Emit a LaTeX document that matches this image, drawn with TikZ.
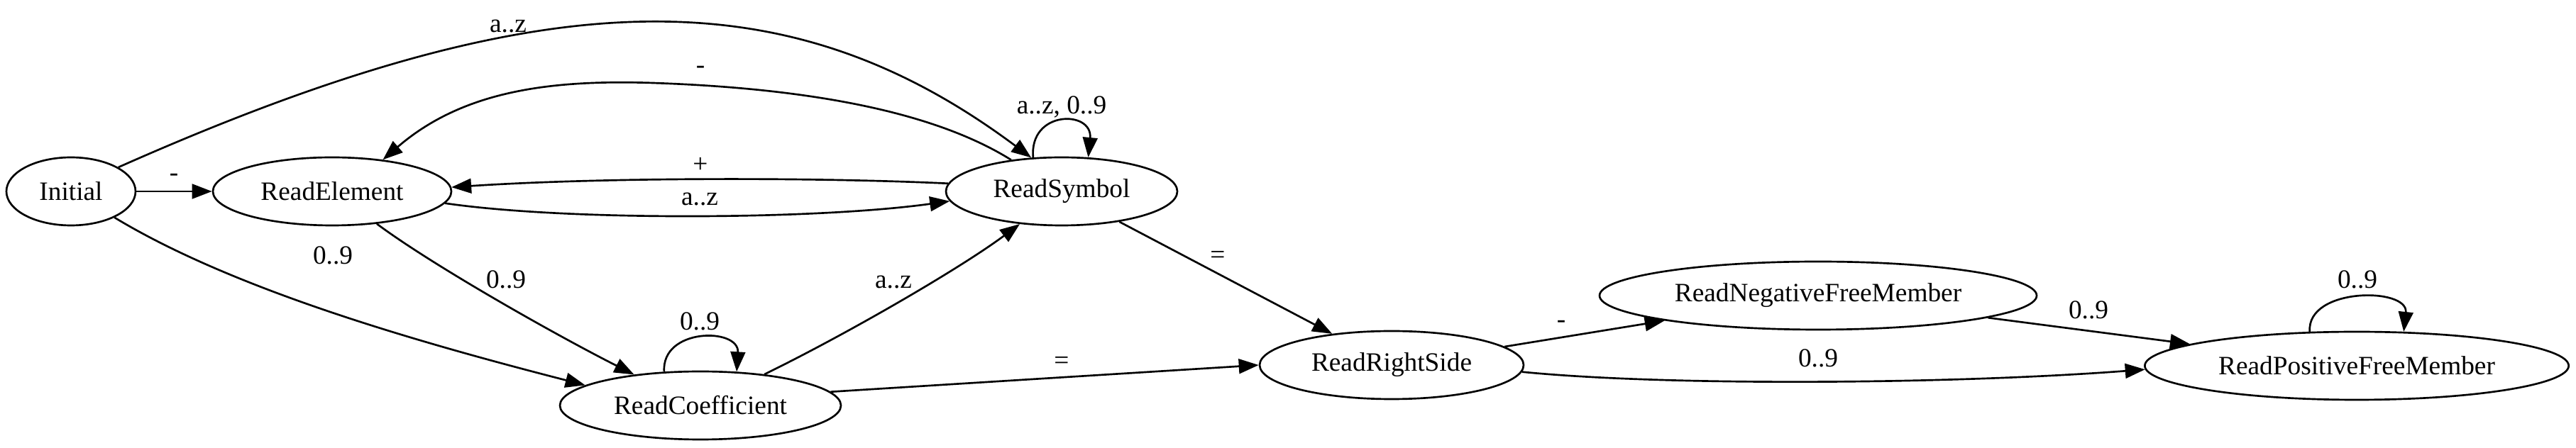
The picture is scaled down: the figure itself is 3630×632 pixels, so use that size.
\documentclass[tikz,border=0pt]{standalone}
\usepackage{fontspec}
\setmainfont{Liberation Serif}
\usetikzlibrary{arrows.meta,shapes.geometric}
\begin{document}
\begin{tikzpicture}[x=0.375pt,y=-0.375pt,
  state/.style={draw,ellipse,line width=1pt,inner sep=0pt,minimum height=36pt,font=\fontsize{14}{16}\selectfont},
  edge/.style={draw,line width=1pt,-{Triangle[length=10.5pt,width=7.8pt]}},
  lbl/.style={anchor=base,inner sep=0pt,font=\fontsize{14}{16}\selectfont}]
\useasboundingbox (0,0) rectangle (3630,632);
% states
\node[state,minimum width=68.25pt] (Initial) at (100,270) {Initial};
\node[state,minimum width=126pt] (ReadElement) at (468,270) {ReadElement};
\node[state,minimum width=122.25pt] (ReadSymbol) at (1496,270) {ReadSymbol};
\node[state,minimum width=148.5pt] (ReadCoefficient) at (987,572) {ReadCoefficient};
\node[state,minimum width=139.5pt] (ReadRightSide) at (1961,515) {ReadRightSide};
\node[state,minimum width=231pt] (ReadNegativeFreeMember) at (2562,417) {ReadNegativeFreeMember};
\node[state,minimum width=224pt] (ReadPositiveFreeMember) at (3321,516) {ReadPositiveFreeMember};
% edges
\draw[edge] (Initial.27) .. controls (772,-33) and (1111,-33) .. (ReadSymbol.132);
\draw[edge] (ReadSymbol.148) .. controls (1320,160) and (1150,125) .. (920,117) .. controls (770,112) and (650,130) .. (ReadElement.32);
\draw[edge] (Initial) -- (ReadElement);
\draw[edge] (ReadSymbol.176) .. controls (1150,250) and (850,250) .. (ReadElement.2);
\draw[edge] (ReadElement.-6) .. controls (800,312) and (1150,310) .. (ReadSymbol.185);
\draw[edge] (ReadSymbol.130) .. controls (1450,155) and (1540,155) .. (ReadSymbol.52);
\draw[edge] (Initial.-31) .. controls (330,409) and (590,483) .. (ReadCoefficient.170);
\draw[edge] (ReadElement.-36) .. controls (612,376) and (786,474) .. (ReadCoefficient.155);
\draw[edge] (ReadCoefficient.137) .. controls (932,462) and (1042,462) .. (ReadCoefficient.43);
\draw[edge] (ReadCoefficient.26) .. controls (1190,473) and (1351,380) .. (ReadSymbol.218);
\draw[edge] (ReadSymbol) -- (ReadRightSide);
\draw[edge] (ReadCoefficient.6) -- (ReadRightSide.180);
\draw[edge] (ReadRightSide) -- (ReadNegativeFreeMember);
\draw[edge] (ReadNegativeFreeMember) -- (ReadPositiveFreeMember);
\draw[edge] (ReadRightSide.-3) .. controls (2350,545) and (2750,542) .. (ReadPositiveFreeMember.181);
\draw[edge] (ReadPositiveFreeMember.144) .. controls (3250,405) and (3394,405) .. (ReadPositiveFreeMember.36);
% labels
\node[lbl] (l1) at (716,46) {a..z};
\node[lbl] (l2) at (987,104) {-};
\node[lbl] (l3) at (1496,161) {a..z, 0..9};
\node[lbl] (l4) at (245,256) {-};
\node[lbl] (l5) at (987,244) {+};
\node[lbl] (l6) at (986,290) {a..z};
\node[lbl] (l7) at (469,373) {0..9};
\node[lbl] (l8) at (713,407) {0..9};
\node[lbl] (l9) at (986,466) {0..9};
\node[lbl] (l10) at (1259,407) {a..z};
\node[lbl] (l11) at (1716,372) {=};
\node[lbl] (l12) at (1496,521) {=};
\node[lbl] (l13) at (2200,463) {-};
\node[lbl] (l14) at (2943,450) {0..9};
\node[lbl] (l15) at (2562,518) {0..9};
\node[lbl] (l16) at (3322,407) {0..9};
\end{tikzpicture}
\end{document}
